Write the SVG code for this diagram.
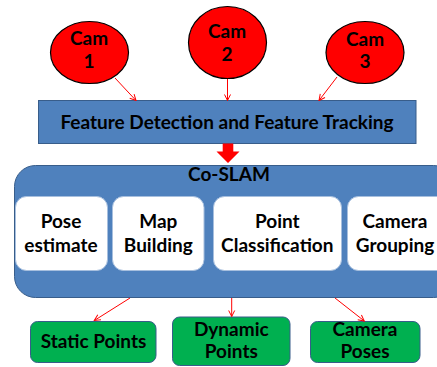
<svg xmlns="http://www.w3.org/2000/svg" width="437" height="367" viewBox="0 0 437 367">
<defs>
<marker id="ah" markerWidth="8" markerHeight="8" refX="7" refY="4" orient="auto" markerUnits="userSpaceOnUse">
<path d="M1,1 L7,4 L1,7" fill="none" stroke="#FF0000" stroke-width="1"/>
</marker>
</defs>
<style>
text{font-family:Lato,"Liberation Sans",sans-serif;font-weight:bold;font-size:19px;fill:#000;text-anchor:middle}
.cam{fill:#FF0000;stroke:#000;stroke-width:1.2}
.blue{fill:#4F81BD;stroke:#385D8A;stroke-width:1}
.white{fill:#FFFFFF;stroke:#A7BFDE;stroke-width:1}
.green{fill:#00B050;stroke:#385D8A;stroke-width:1}
.conn{stroke:#FF0000;stroke-width:1;fill:none;marker-end:url(#ah)}
</style>
<g id="cam1"><ellipse class="cam" cx="89.5" cy="52.5" rx="39" ry="31"/><text x="89" y="45">Cam</text><text x="89" y="68.3">1</text></g>
<g id="cam2"><ellipse class="cam" cx="227.5" cy="42.5" rx="39" ry="36"/><text x="227" y="38.3">Cam</text><text x="227" y="61">2</text></g>
<g id="cam3"><ellipse class="cam" cx="365" cy="52.5" rx="39" ry="31"/><text x="365" y="46">Cam</text><text x="365" y="68.3">3</text></g>
<g id="feature"><rect class="blue" x="38.5" y="100.5" width="377.5" height="43"/><text x="227" y="129">Feature Detection and Feature Tracking</text></g>
<g id="coslam"><rect class="blue" x="14.5" y="165.5" width="440" height="132" rx="21"/><text x="229" y="180.5">Co-SLAM</text></g>
<g id="pose"><rect class="white" x="15.5" y="196.5" width="92" height="74" rx="11"/><text x="61" y="228.3">Pose</text><text x="61" y="251.7">estimate</text></g>
<g id="map"><rect class="white" x="112.5" y="196.5" width="91.5" height="74" rx="11"/><text x="158.3" y="228.3">Map</text><text x="158.3" y="251.7">Building</text></g>
<g id="point"><rect class="white" x="213.5" y="196.5" width="128" height="74" rx="11"/><text x="277.3" y="228.3">Point</text><text x="277.3" y="251.7">Classification</text></g>
<g id="camgroup"><rect class="white" x="347.5" y="196.5" width="110" height="74" rx="11"/><text x="395" y="228.3">Camera</text><text x="395" y="251.7">Grouping</text></g>
<g id="static"><rect class="green" x="30.5" y="321.5" width="125.5" height="41" rx="7"/><text x="93.5" y="348.3">Static Points</text></g>
<g id="dynamic"><rect class="green" x="172.5" y="317" width="117.5" height="48.5" rx="7"/><text x="231.3" y="335.7">Dynamic</text><text x="231.3" y="358.3">Points</text></g>
<g id="poses"><rect class="green" x="310.5" y="321.5" width="109.5" height="41" rx="7"/><text x="365" y="335.7">Camera</text><text x="365" y="358.3">Poses</text></g>
<g id="connectors">
<line class="conn" x1="115" y1="78" x2="136" y2="100.5"/>
<line class="conn" x1="227.5" y1="79" x2="227.5" y2="100.5"/>
<line class="conn" x1="337" y1="77" x2="319" y2="100.5"/>
<polygon points="222.7,143.5 233.3,143.5 233.3,151.5 239.5,151.5 228,163 216.5,151.5 222.7,151.5" fill="#FF0000"/>
<line class="conn" x1="130" y1="298" x2="94.3" y2="320.5"/>
<line class="conn" x1="231.7" y1="298" x2="231.7" y2="316.5"/>
<line class="conn" x1="335" y1="298" x2="364.3" y2="321"/>
</g>
</svg>
